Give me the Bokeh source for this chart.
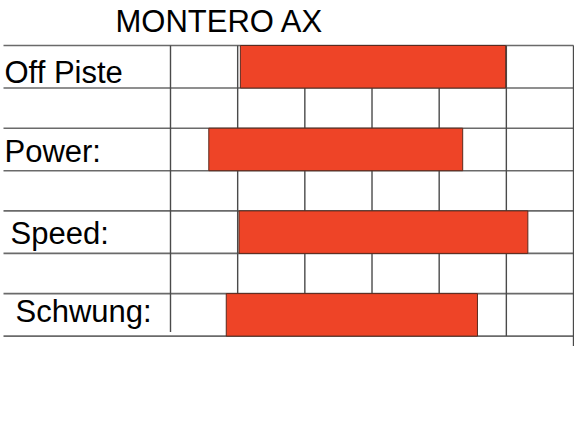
from bokeh.plotting import figure
from bokeh.models import Range1d
from bokeh.embed import file_html
from bokeh.resources import INLINE

# ---- data ----
title_text = "MONTERO AX"
categories = ["Off Piste", "Power:", "Speed:", "Schwung:"]
bar_start = [1.04, 0.57, 1.02, 0.83]
bar_end = [4.99, 4.35, 5.32, 4.57]
grid_values = [0, 1, 2, 3, 4, 5, 6]

# ---- layout (pixel based) ----
W, H = 574, 419
X0_PX = 170.0      # pixel of value 0
UNIT_PX = 67.17    # pixels per value unit
ROW_TOP0 = 45.0
ROW_PERIOD = 82.7
ROW_H = 42.5
LABEL_X = 4
LABEL_INDENT = [0, 0, 6, 11]
LABEL_DY = [16.75, 13.05, 12.35, 7.65]   # baseline offset from row centre
TEXT_SHIFT = 11    # renderer places baseline below anchor
FONT = "Liberation Sans"


def px_to_v(px):
    return (px - X0_PX) / UNIT_PX


p = figure(width=W, height=H, output_backend="svg", toolbar_location=None,
           x_range=Range1d(px_to_v(0), px_to_v(W)),
           y_range=Range1d(H, 0),
           x_axis_location=None, y_axis_location=None,
           min_border=0, min_border_left=0, min_border_right=0,
           min_border_top=0, min_border_bottom=0)
p.outline_line_color = None
p.xgrid.visible = False
p.ygrid.visible = False
p.background_fill_color = "white"
p.border_fill_color = "white"

n = len(categories)
tops = [ROW_TOP0 + ROW_PERIOD * i for i in range(n)]
bottoms = [t + ROW_H for t in tops]
centers = [t + ROW_H / 2 for t in tops]
table_top = tops[0]
table_bottom = bottoms[-1]

line_col = "#6a6a6a"
# horizontal rules
hy = []
for t, b in zip(tops, bottoms):
    hy += [t, b]
left_v = px_to_v(3)
p.segment(x0=[left_v] * len(hy), x1=[grid_values[-1]] * len(hy), y0=hy, y1=hy,
          line_color=line_col, line_width=1.6)
# vertical rules
vy1 = []
for g in grid_values:
    if g == grid_values[0]:
        vy1.append(table_bottom - 4)
    elif g == grid_values[-1]:
        vy1.append(table_bottom + 10)
    else:
        vy1.append(table_bottom)
p.segment(x0=grid_values, x1=grid_values, y0=[table_top] * len(grid_values), y1=vy1,
          line_color="#4a4a4a", line_width=1.4)

# bars
p.hbar(y=centers, left=bar_start, right=bar_end, height=ROW_H,
       fill_color="#EE4427", line_color="#5a2a1e", line_width=1)

# category labels
lx = [px_to_v(LABEL_X + d) for d in LABEL_INDENT]
ly = [c + dy - TEXT_SHIFT for c, dy in zip(centers, LABEL_DY)]
p.text(x=lx, y=ly, text=categories, text_font_size="31px",
       text_baseline="alphabetic", text_align="left", text_color="black",
       text_font={"value": FONT})

# title
p.text(x=[px_to_v(115)], y=[32 - TEXT_SHIFT], text=[title_text], text_font_size="31px",
       text_baseline="alphabetic", text_align="left", text_color="black",
       text_font={"value": FONT})

open("out.html", "w").write(file_html(p, INLINE))
